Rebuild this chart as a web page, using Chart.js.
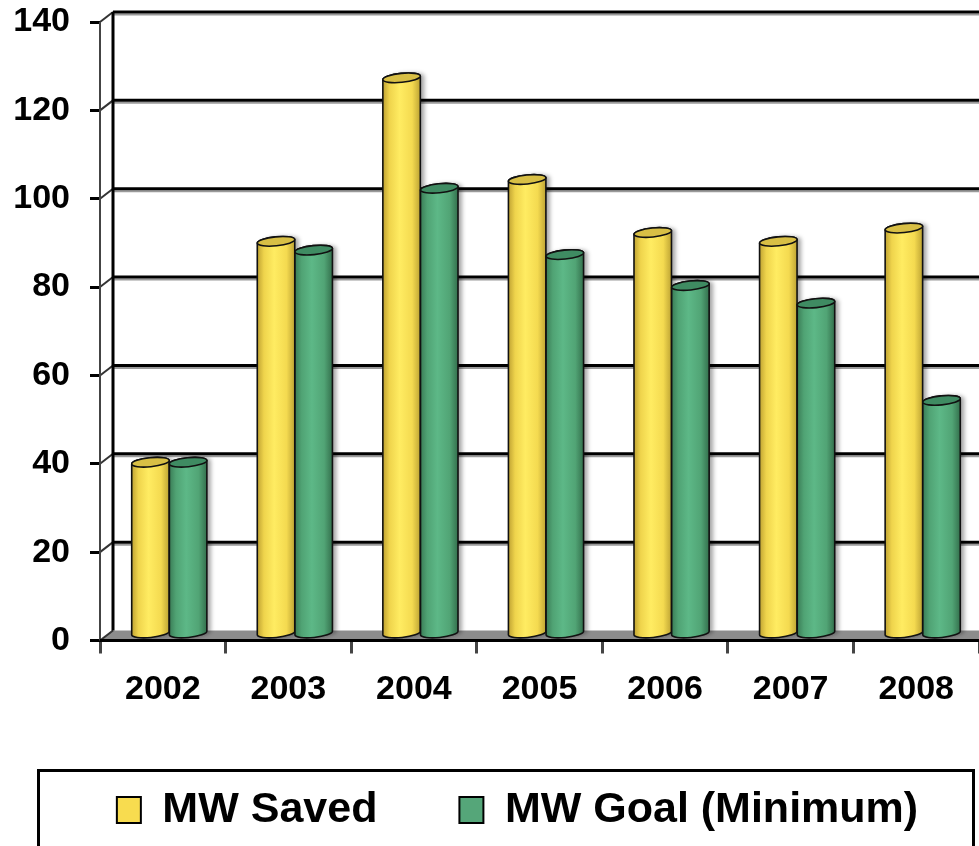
<!DOCTYPE html>
<html>
<head>
<meta charset="utf-8">
<script src="https://cdn.jsdelivr.net/npm/chart.js@4.4.1/dist/chart.umd.min.js"></script>
<style>
  html, body { margin: 0; padding: 0; background: #fff; overflow: hidden; }
  canvas { display: block; }
</style>
</head>
<body>
<canvas id="c" width="979" height="846"></canvas>
<script>
// ---- data ----
const YEARS = ['2002', '2003', '2004', '2005', '2006', '2007', '2008'];
const MW_SAVED = [39, 89, 126, 103, 91, 89, 92];
const MW_GOAL = [39, 87, 101, 86, 79, 75, 53];
const SERIES_NAMES = ['MW Saved', 'MW Goal (Minimum)'];
const Y_MIN = 0, Y_MAX = 140, Y_STEP = 20;

// ---- styles ----
const FONT = "'Liberation Sans', Arial, Helvetica, sans-serif";
const PALETTES = [
  { legend: '#F8DC4F', top: '#d8bf45',
    stops: [[0, '#bfa232'], [0.18, '#efd44c'], [0.45, '#ffec62'], [0.78, '#f4da50'], [1, '#bda333']] },
  { legend: '#55A679', top: '#3f8b62',
    stops: [[0, '#3a7c56'], [0.18, '#50a374'], [0.45, '#5db887'], [0.78, '#51a475'], [1, '#336f4c']] }
];
const DEPTH_X = 13, DEPTH_Y = 10;       // back wall offset
const BAR_SHIFT_X = 6.5, BAR_SHIFT_Y = -6; // bars sit at mid depth

function drawCylinder(ctx, cx, top, base, w, pal) {
  const rx = w / 2, ry = 4.5, rot = -0.1;
  const L = cx - rx, R = cx + rx;
  const pt = (cy, th) => [cx + rx * Math.cos(th) * Math.cos(rot) - ry * Math.sin(th) * Math.sin(rot),
                          cy + rx * Math.cos(th) * Math.sin(rot) + ry * Math.sin(th) * Math.cos(rot)];
  const tl = pt(top, Math.PI), bl = pt(base, Math.PI), tr = pt(top, 0);
  ctx.save();
  const g = ctx.createLinearGradient(L, 0, R, 0);
  pal.stops.forEach(s => g.addColorStop(s[0], s[1]));
  ctx.beginPath();
  ctx.moveTo(tl[0], tl[1]);
  ctx.lineTo(bl[0], bl[1]);
  ctx.ellipse(cx, base, rx, ry, rot, Math.PI, 0, true);
  ctx.lineTo(tr[0], tr[1]);
  ctx.ellipse(cx, top, rx, ry, rot, 0, Math.PI, true);
  ctx.closePath();
  ctx.shadowColor = 'rgba(0,0,0,0.35)';
  ctx.shadowOffsetX = 4; ctx.shadowOffsetY = 0; ctx.shadowBlur = 4;
  ctx.fillStyle = g;
  ctx.fill();
  ctx.shadowColor = 'transparent';
  ctx.lineWidth = 1.6;
  ctx.strokeStyle = '#111';
  ctx.stroke();
  ctx.beginPath();
  ctx.ellipse(cx, top, rx, ry, rot, 0, Math.PI * 2);
  ctx.fillStyle = pal.top;
  ctx.fill();
  ctx.stroke();
  ctx.restore();
}

const wallPlugin = {
  id: 'wall3d',
  afterLayout(chart) {
    chart.legend.left += 28;
    chart.legend.right += 28;
  },
  beforeDatasetsDraw(chart) {
    const ctx = chart.ctx;
    const { left, right, top, bottom } = chart.chartArea;
    const y = chart.scales.y;
    ctx.save();
    ctx.fillStyle = '#8c8c8c';
    ctx.beginPath();
    ctx.moveTo(left, bottom);
    ctx.lineTo(left + DEPTH_X, bottom - DEPTH_Y);
    ctx.lineTo(right, bottom - DEPTH_Y);
    ctx.lineTo(right, bottom);
    ctx.closePath();
    ctx.fill();
    y.ticks.forEach(t => {
      const py = y.getPixelForValue(t.value);
      if (t.value !== Y_MIN) {
        ctx.strokeStyle = '#9a9a9a';
        ctx.lineWidth = 2;
        ctx.beginPath();
        ctx.moveTo(left + DEPTH_X, py - DEPTH_Y + 2.5);
        ctx.lineTo(right, py - DEPTH_Y + 2.5);
        ctx.stroke();
        ctx.strokeStyle = '#000';
        ctx.lineWidth = 3;
        ctx.beginPath();
        ctx.moveTo(left + DEPTH_X, py - DEPTH_Y);
        ctx.lineTo(right, py - DEPTH_Y);
        ctx.stroke();
      }
      ctx.strokeStyle = '#333';
      ctx.lineWidth = 2;
      ctx.beginPath();
      ctx.moveTo(left, py);
      ctx.lineTo(left + DEPTH_X, py - DEPTH_Y);
      ctx.stroke();
    });
    ctx.strokeStyle = '#000';
    ctx.lineWidth = 3;
    ctx.beginPath();
    ctx.moveTo(left + DEPTH_X, top - DEPTH_Y);
    ctx.lineTo(left + DEPTH_X, bottom - DEPTH_Y);
    ctx.stroke();
    ctx.strokeStyle = '#444';
    ctx.lineWidth = 2;
    ctx.beginPath();
    ctx.moveTo(left, top);
    ctx.lineTo(left, bottom);
    ctx.stroke();
    ctx.strokeStyle = '#000';
    ctx.lineWidth = 3;
    ctx.beginPath();
    ctx.moveTo(left, bottom);
    ctx.lineTo(right, bottom);
    ctx.stroke();
    ctx.restore();
  },
  beforeDatasetDraw() {
    return false;
  },
  afterDatasetsDraw(chart) {
    const ctx = chart.ctx;
    chart.data.datasets.forEach((ds, i) => {
      const meta = chart.getDatasetMeta(i);
      meta.data.forEach(el => {
        const p = el.getProps(['x', 'y', 'base', 'width'], true);
        drawCylinder(ctx, p.x + BAR_SHIFT_X, p.y + BAR_SHIFT_Y, p.base + BAR_SHIFT_Y, p.width, PALETTES[i]);
      });
    });
  },
  afterDraw(chart) {
    const ctx = chart.ctx;
    ctx.save();
    ctx.strokeStyle = '#000';
    ctx.lineWidth = 3;
    ctx.strokeRect(38.5, 770.5, 935, 200);
    ctx.restore();
  }
};

new Chart(document.getElementById('c'), {
  type: 'bar',
  data: {
    labels: YEARS,
    datasets: [
      { label: SERIES_NAMES[0], data: MW_SAVED, backgroundColor: PALETTES[0].legend, borderColor: '#000', borderWidth: 2 },
      { label: SERIES_NAMES[1], data: MW_GOAL, backgroundColor: PALETTES[1].legend, borderColor: '#000', borderWidth: 2 }
    ]
  },
  options: {
    responsive: false,
    devicePixelRatio: 1,
    animation: false,
    categoryPercentage: 0.6,
    barPercentage: 1.0,
    layout: { padding: { top: 22, right: 0, bottom: 4.5, left: 0 } },
    plugins: {
      tooltip: { enabled: false },
      legend: {
        position: 'bottom',
        labels: {
          font: { family: FONT, size: 43, weight: 'bold' },
          color: '#000',
          boxWidth: 24,
          boxHeight: 26,
          padding: 82
        }
      }
    },
    scales: {
      x: {
        afterFit: s => { s.height = 66; },
        border: { display: false },
        grid: { drawOnChartArea: false, drawTicks: true, tickLength: 13, color: '#444', lineWidth: 3, offset: true },
        ticks: { font: { family: FONT, size: 34, weight: 'bold' }, color: '#000', padding: 16, maxRotation: 0 }
      },
      y: {
        min: Y_MIN, max: Y_MAX,
        afterFit: s => { s.width = 100; s.paddingTop = 0; s.paddingBottom = 0; },
        border: { display: false },
        grid: { drawOnChartArea: false, drawTicks: true, tickLength: 10, color: '#000', lineWidth: 3 },
        ticks: { stepSize: Y_STEP, font: { family: FONT, size: 34, weight: 'bold' }, color: '#000', padding: 20 }
      }
    }
  },
  plugins: [wallPlugin]
});
</script>
</body>
</html>
